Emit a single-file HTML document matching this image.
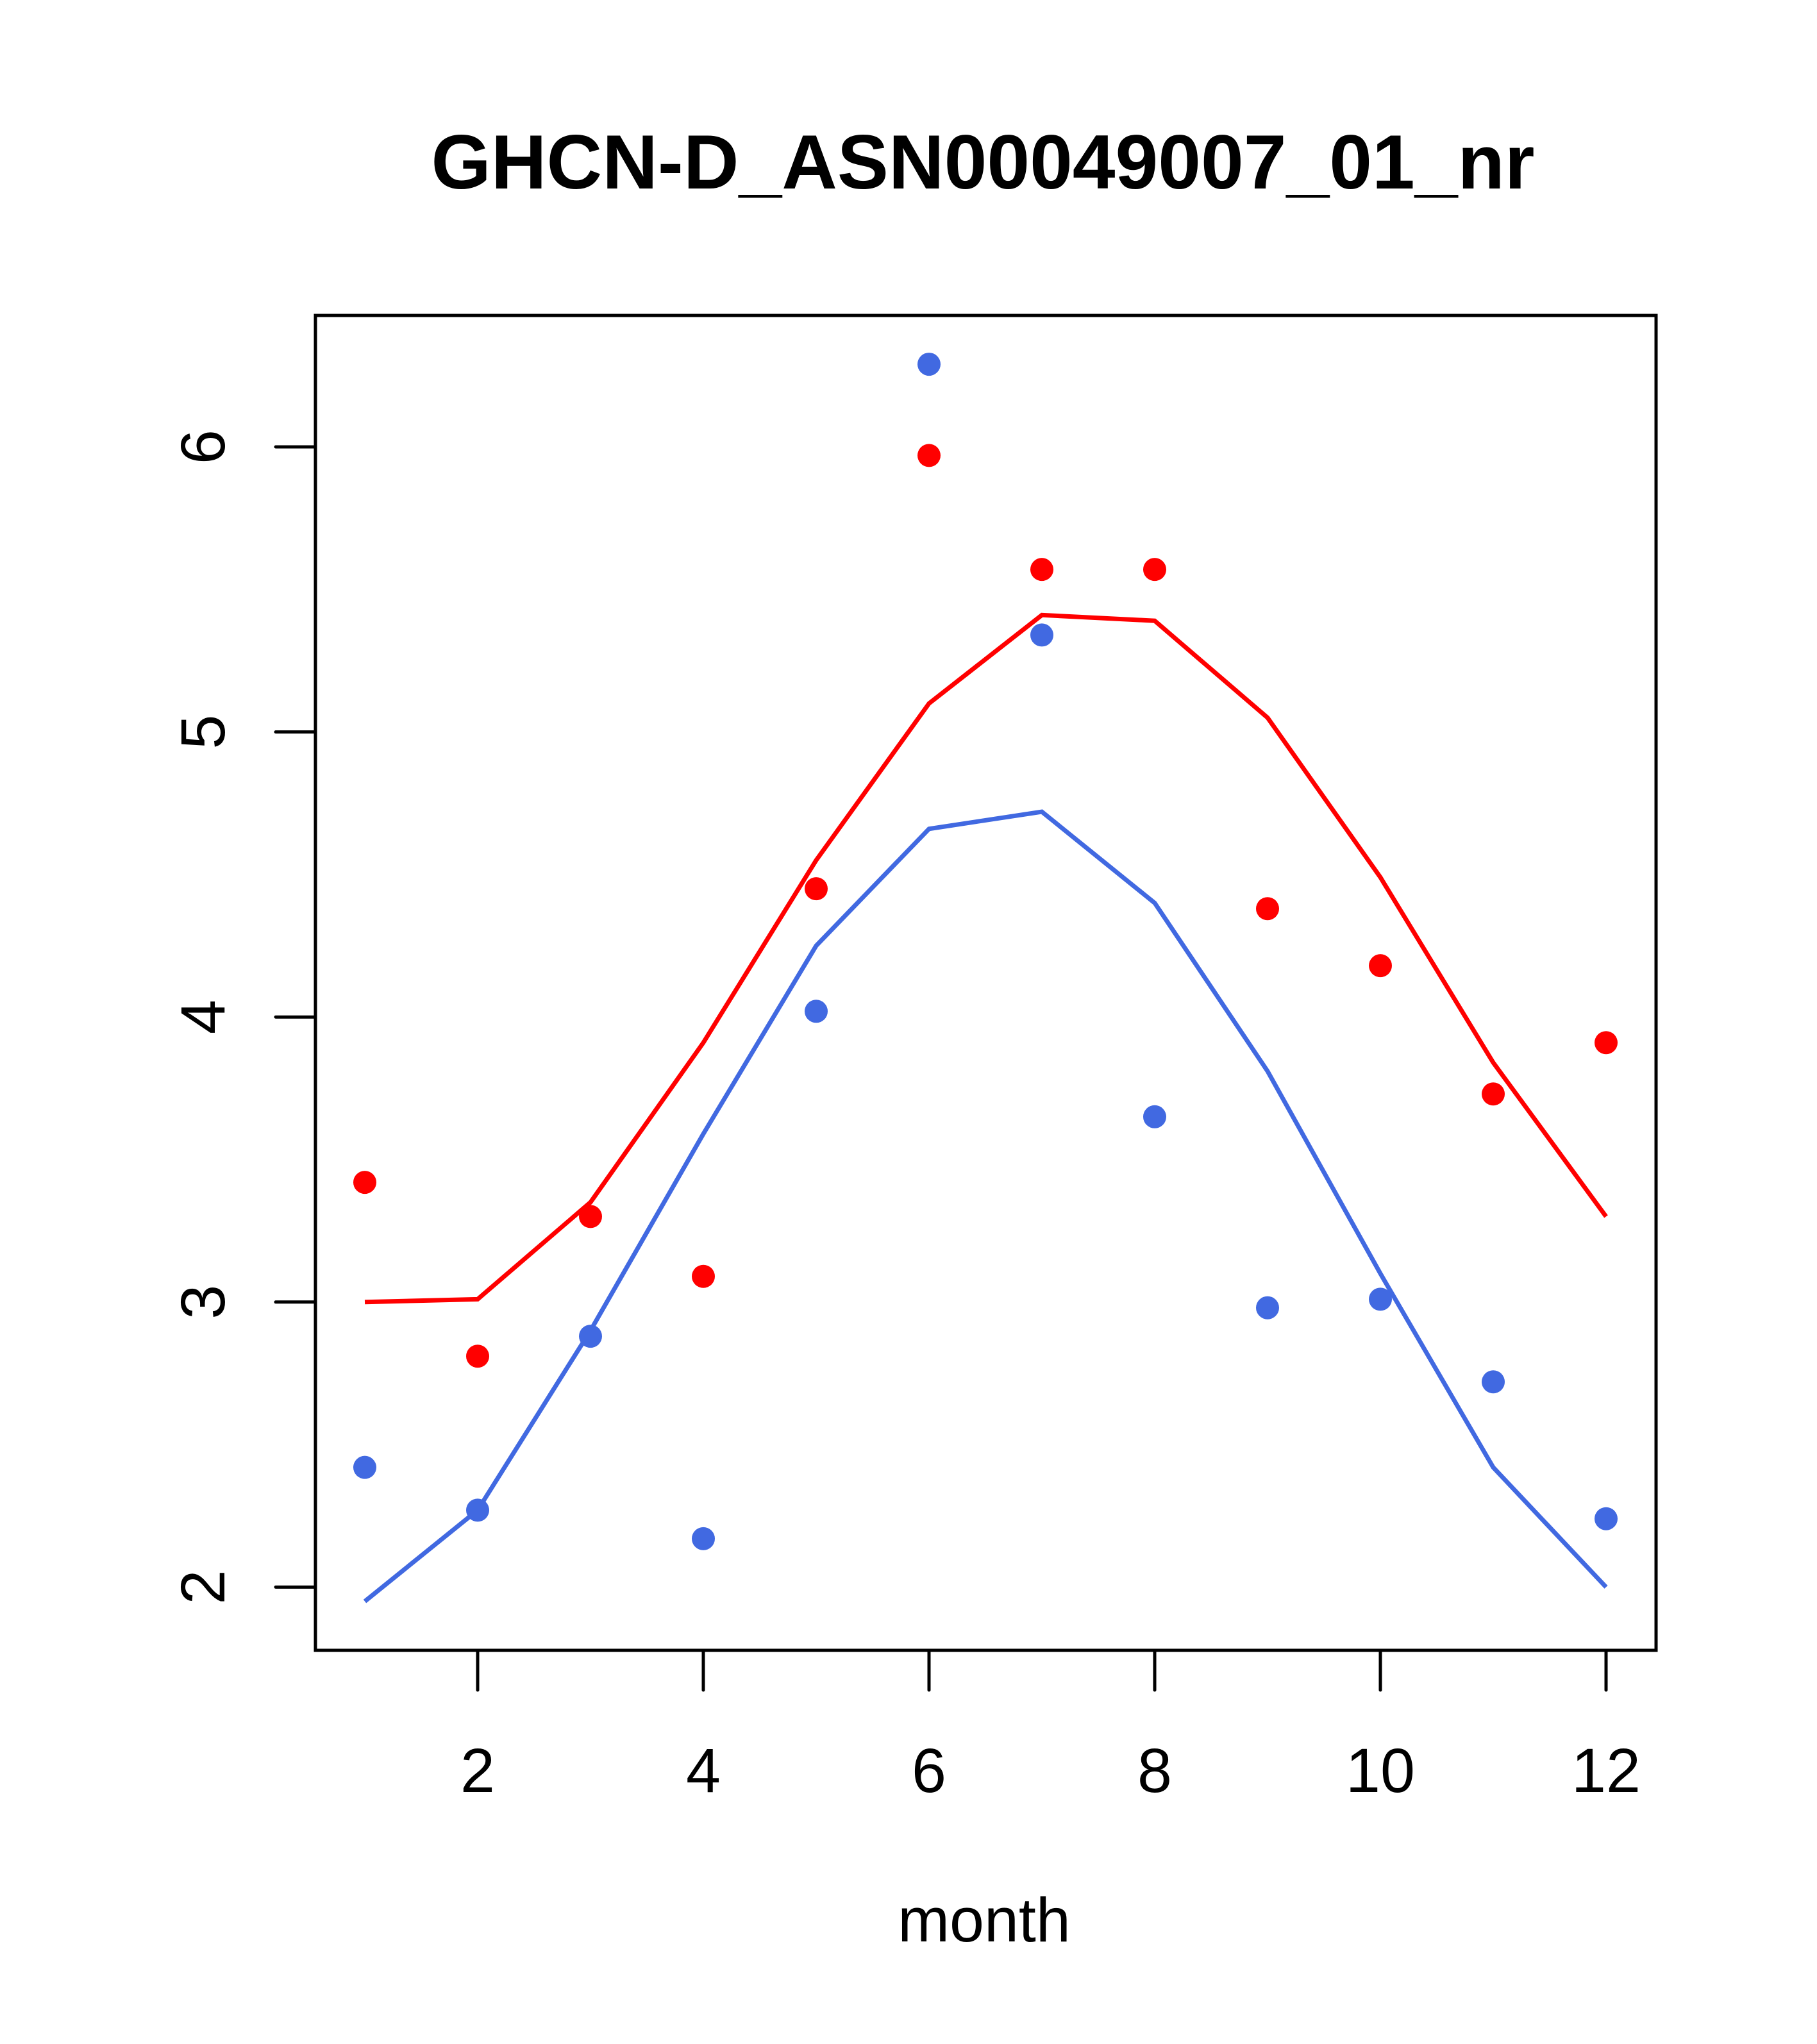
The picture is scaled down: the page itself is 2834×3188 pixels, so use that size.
<!DOCTYPE html>
<html><head><meta charset="utf-8"><style>html,body{margin:0;padding:0;background:#fff}svg{display:block}</style></head>
<body>
<svg id="chart" width="2834" height="3188" viewBox="0 0 2834 3188" xmlns="http://www.w3.org/2000/svg" font-family="'Liberation Sans', sans-serif">
<text x="1533" y="294" font-size="120" font-weight="bold" text-anchor="middle">GHCN-D_ASN00049007_01_nr</text>
<rect x="492" y="492" width="2091" height="2082" fill="none" stroke="#000" stroke-width="5"/>
<g id="xaxis"></g>
<g id="yaxis"></g>
<text x="1535" y="3028" font-size="97" text-anchor="middle">month</text>
<g id="series"></g>
</svg>
<script>
const months = [1,2,3,4,5,6,7,8,9,10,11,12];
const redPoints = [3.42,2.81,3.30,3.09,4.45,5.97,5.57,5.57,4.38,4.18,3.73,3.91];
const bluePoints = [2.42,2.27,2.88,2.17,4.02,6.29,5.34,3.65,2.98,3.01,2.72,2.24];
const redLine = [3.00,3.01,3.35,3.91,4.55,5.10,5.41,5.39,5.05,4.49,3.84,3.30];
const blueLine = [1.95,2.27,2.90,3.59,4.25,4.66,4.72,4.40,3.81,3.10,2.42,2.00];
const xTicks = [2,4,6,8,10,12];
const yTicks = [2,3,4,5,6];

const NS = 'http://www.w3.org/2000/svg';
function X(m){ return 569 + (m-1)*176.0; }
function Y(v){ return 697 + (6-v)*444.6; }
function mk(tag, attrs, parent){ const e=document.createElementNS(NS,tag); for(const k in attrs) e.setAttribute(k,attrs[k]); parent.appendChild(e); return e; }

const xa=document.getElementById('xaxis'), ya=document.getElementById('yaxis'), se=document.getElementById('series');
xTicks.forEach(t=>{
  const l=mk('line',{x1:X(t),x2:X(t),y1:2574,y2:2636,stroke:'#000','stroke-width':5,'stroke-linecap':'round'},xa);
  
  
  const tx=mk('text',{x:X(t),y:2795,'font-size':97,'text-anchor':'middle'},xa);
  tx.textContent=t;
  
  
});
yTicks.forEach(t=>{
  const l=mk('line',{x1:430,x2:492,y1:Y(t),y2:Y(t),stroke:'#000','stroke-width':5,'stroke-linecap':'round'},ya);
  
  
  const tx=mk('text',{x:0,y:0,'font-size':97,'text-anchor':'middle',transform:`translate(350,${Y(t)}) rotate(-90)`},ya);
  tx.textContent=t;
  
  
});
function line(vals,color,name){
  const p=mk('polyline',{points:vals.map((v,i)=>X(months[i])+','+Y(v)).join(' '),fill:'none',stroke:color,'stroke-width':7},se);
  
  
}
function pts(vals,color,name){
  vals.forEach((v,i)=>{
    const c=mk('circle',{cx:X(months[i]),cy:Y(v),r:18,fill:color},se);
    
    
  });
}
line(redLine,'#ff0000','red-line');
line(blueLine,'#4169e1','blue-line');
pts(redPoints,'#ff0000','red-point');
pts(bluePoints,'#4169e1','blue-point');
</script>
</body></html>
